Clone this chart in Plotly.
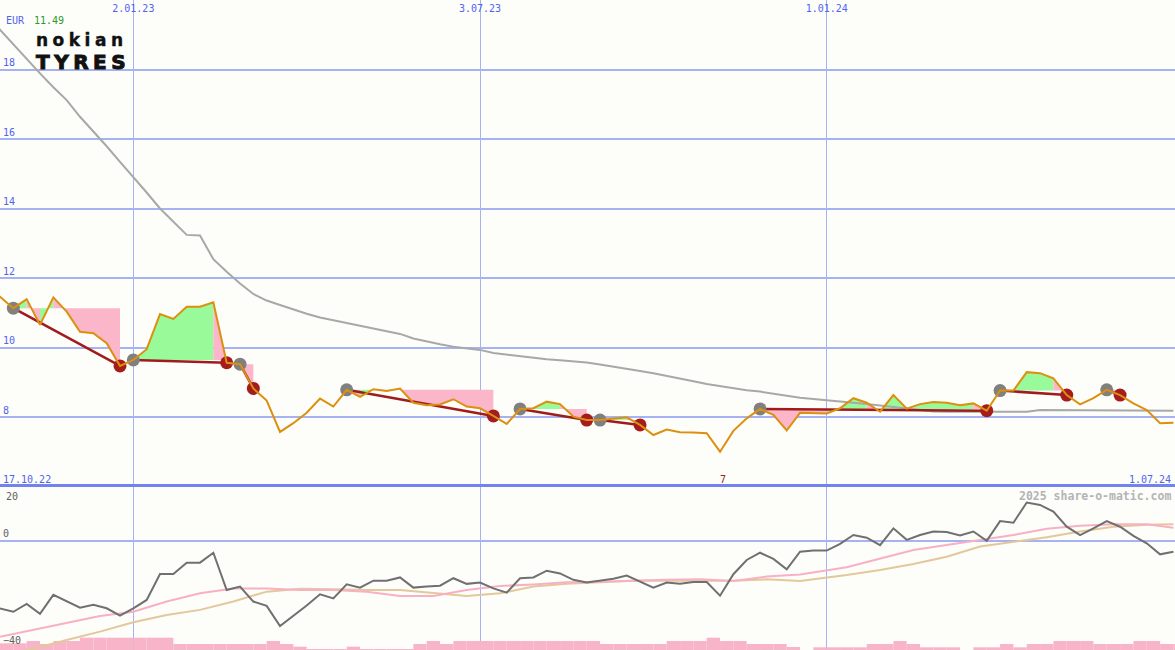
import plotly.graph_objects as go
import pandas as pd
import numpy as np

# ---------------- data ----------------
BASE = "2023-01-02"                     # week index 0
week_idx = list(range(-11, 79))         # weekly points 17.10.22 .. 1.07.24

price = [11.70, 11.47, 11.14, 11.40, 10.66, 11.45, 11.04, 10.46, 10.42, 10.13,
         9.48, 9.65, 9.96, 10.97, 10.83, 11.18, 11.18, 11.31, 9.57, 9.53,
         8.83, 8.48, 7.58, 7.83, 8.13, 8.54, 8.31, 8.79, 8.59, 8.81,
         8.76, 8.83, 8.42, 8.35, 8.37, 8.52, 8.31, 8.26, 8.04, 7.81,
         8.24, 8.26, 8.45, 8.38, 8.02, 7.92, 7.92, 7.96, 8.00, 7.78,
         7.49, 7.65, 7.57, 7.56, 7.54, 7.01, 7.61, 7.97, 8.24, 8.07,
         7.62, 8.13, 8.13, 8.11, 8.26, 8.55, 8.42, 8.16, 8.64, 8.25,
         8.38, 8.44, 8.42, 8.35, 8.40, 8.19, 8.77, 8.77, 9.30, 9.27,
         9.12, 8.64, 8.37, 8.55, 8.79, 8.64, 8.40, 8.21, 7.83, 7.84]

ma_long = [19.57, 19.15, 18.73, 18.30, 17.90, 17.50, 17.13, 16.65, 16.23, 15.80,
           15.35, 14.92, 14.47, 14.01, 13.63, 13.25, 13.23, 12.55, 12.19, 11.85,
           11.55, 11.36, 11.23, 11.10, 10.98, 10.87, 10.79, 10.70, 10.62, 10.54,
           10.47, 10.40, 10.27, 10.18, 10.10, 10.03, 9.98, 9.94, 9.85, 9.80,
           9.75, 9.71, 9.67, 9.64, 9.61, 9.58, 9.52, 9.45, 9.39, 9.33,
           9.27, 9.20, 9.12, 9.04, 8.96, 8.90, 8.82, 8.78, 8.74, 8.68,
           8.62, 8.56, 8.53, 8.50, 8.46, 8.42, 8.38, 8.34, 8.30, 8.26,
           8.21, 8.17, 8.16, 8.16, 8.16, 8.16, 8.16, 8.16, 8.16, 8.21,
           8.21, 8.21, 8.21, 8.21, 8.21, 8.21, 8.21, 8.19, 8.19, 8.19]

osc = [-24.0, -25.2, -26.5, -23.6, -27.3, -20.2, -22.7, -25.0, -23.9, -25.2,
       -27.9, -25.2, -22.1, -12.4, -12.4, -8.2, -8.2, -4.5, -18.4, -17.1,
       -22.7, -24.3, -31.8, -28.1, -24.2, -20.0, -21.5, -16.3, -17.5, -14.9,
       -14.9, -13.7, -17.5, -17.1, -16.8, -14.0, -16.1, -15.6, -17.8, -19.4,
       -14.0, -13.7, -11.2, -12.2, -14.6, -15.6, -14.9, -14.2, -13.0, -15.3,
       -17.5, -15.6, -16.1, -15.4, -15.4, -20.5, -12.5, -7.2, -4.5, -6.8,
       -10.7, -4.1, -3.7, -3.7, -1.2, 2.1, 1.1, -1.7, 4.6, 0.3,
       2.1, 3.4, 3.2, 1.9, 3.4, -0.1, 7.3, 6.7, 14.2, 13.3,
       10.8, 5.2, 2.1, 4.6, 7.3, 5.2, 1.8, -1.0, -5.1, -4.1]

volume = [6.7, 6.7, 6.7, 9, 6, 9, 9, 12.3, 12.3, 12.3,
          12.3, 12.3, 12.3, 12.3, 6, 6, 6, 6, 6, 6,
          6, 9, 6, 3.3, 0.7, 0.7, 0.7, 3.3, 0.7, 0.7,
          0.7, 1, 6, 9, 6, 9, 9, 9, 9, 9,
          9, 9, 9, 9, 9, 9, 6, 6, 6, 6,
          6, 9, 9, 9, 12.3, 9, 9, 6, 6, 6,
          3, 0, 2.7, 2.7, 2.7, 2.7, 6, 6, 9, 6,
          2.7, 2.7, 2.7, 0, 2.7, 2.7, 6, 2.7, 6, 6,
          9, 9, 9, 6, 6, 6, 9, 9, 6, 6]

ma_weeks = [-10, -7.5, -5, -2.5, 0, 2.5, 5, 7.5, 10, 12.5, 15, 17.5, 20, 22.5,
            25, 27.5, 30, 32.5, 35, 37.5, 40, 42.5, 45, 47.5, 50, 53.5, 56,
            58.5, 61, 63.5, 66, 68.5, 71, 73.5, 76, 78]
osc_ma_fast = [-35.8, -33.3, -30.8, -28.1, -26.5, -22.7, -19.6, -17.8, -17.8,
               -18.4, -18.4, -19.0, -20.6, -20.6, -18.4, -16.9, -16.3, -15.5,
               -15.3, -14.9, -14.6, -14.4, -15.0, -13.4, -12.6, -9.9, -6.6,
               -3.5, -1.6, 0.3, 2.1, 4.4, 5.6, 6.1, 6.1, 4.8]
osc_ma_slow = [-42.5, -40.3, -37.0, -33.9, -30.4, -27.7, -25.8, -22.7, -19.0,
               -17.9, -18.1, -18.4, -18.4, -19.4, -20.6, -19.6, -17.1, -16.1,
               -15.6, -14.9, -14.9, -14.9, -14.9, -14.4, -15.0, -12.8, -10.9,
               -8.7, -6.0, -2.2, -0.4, 1.3, 3.4, 5.2, 5.9, 6.1]

seg_start = [-9, 0, 8, 16, 29, 35, 47, 65, 73]    # grey signal dots (week index)
seg_end = [-1, 7, 9, 27, 34, 38, 64, 70, 74]      # red signal dots (week index)

price_ticks = [8, 10, 12, 14, 16, 18]
date_ticks = ["2023-01-02", "2023-07-03", "2024-01-01"]

# ---------------- helpers ----------------
base = pd.Timestamp(BASE)
dates = [base + pd.Timedelta(days=7 * k) for k in week_idx]
ma_dates = [base + pd.Timedelta(days=7 * k) for k in ma_weeks]
off = -week_idx[0]

BLUE = "#5064f0"
GRID = "#a6b2f2"
MONO = "DejaVu Sans Mono"
BG = "#fdfdfa"


def fill_polys(up_side):
    xs, ys = [], []
    for s, e in zip(seg_start, seg_end):
        i0, i1 = s + off, e + off
        b = price[i0]
        for i in range(i0, i1):
            up = price[i + 1] >= b
            if up == up_side:
                xs += [dates[i], dates[i + 1], dates[i + 1], dates[i], dates[i], None]
                ys += [price[i], price[i + 1], b, b, price[i], None]
    return xs, ys


fig = go.Figure()

# volume bars (lower panel, own axis)
fig.add_trace(go.Bar(x=dates, y=volume, xaxis="x2", yaxis="y2",
                     marker=dict(color="#f8b4c8", line=dict(width=0)),
                     width=7 * 86400000, offset=0, hoverinfo="skip"))

# fills
gx, gy = fill_polys(True)
px_, py_ = fill_polys(False)
fig.add_trace(go.Scatter(x=gx, y=gy, mode="lines", fill="toself",
                         fillcolor="#98fa98", line=dict(width=0),
                         xaxis="x", yaxis="y", hoverinfo="skip"))
fig.add_trace(go.Scatter(x=px_, y=py_, mode="lines", fill="toself",
                         fillcolor="#fbb6c9", line=dict(width=0),
                         xaxis="x", yaxis="y", hoverinfo="skip"))

# long moving average
fig.add_trace(go.Scatter(x=dates, y=ma_long, mode="lines",
                         line=dict(color="#a8a8a8", width=2),
                         xaxis="x", yaxis="y"))

# signal segment lines
sx, sy = [], []
for s, e in zip(seg_start, seg_end):
    sx += [dates[s + off], dates[e + off], None]
    sy += [price[s + off], price[e + off], None]
fig.add_trace(go.Scatter(x=sx, y=sy, mode="lines",
                         line=dict(color="#a01c1c", width=2.5),
                         xaxis="x", yaxis="y"))

# signal dots
fig.add_trace(go.Scatter(x=[dates[s + off] for s in seg_start],
                         y=[price[s + off] for s in seg_start], mode="markers",
                         marker=dict(color="#808080", size=13, line=dict(width=0)),
                         xaxis="x", yaxis="y"))
fig.add_trace(go.Scatter(x=[dates[e + off] for e in seg_end],
                         y=[price[e + off] for e in seg_end], mode="markers",
                         marker=dict(color="#a41c1c", size=13, line=dict(width=0)),
                         xaxis="x", yaxis="y"))

# price line
fig.add_trace(go.Scatter(x=dates, y=price, mode="lines",
                         line=dict(color="#dc9010", width=2),
                         xaxis="x", yaxis="y"))

# oscillator lines (lower panel)
fig.add_trace(go.Scatter(x=ma_dates, y=osc_ma_slow, mode="lines",
                         line=dict(color="#e2c89a", width=2),
                         xaxis="x2", yaxis="y3"))
fig.add_trace(go.Scatter(x=ma_dates, y=osc_ma_fast, mode="lines",
                         line=dict(color="#f8b0c4", width=2),
                         xaxis="x2", yaxis="y3"))
fig.add_trace(go.Scatter(x=dates, y=osc, mode="lines",
                         line=dict(color="#707070", width=2),
                         xaxis="x2", yaxis="y3"))

x_range = [pd.Timestamp("2022-10-24"), pd.Timestamp("2024-07-01 20:00")]
split = 1 - 487 / 650

fig.update_layout(
    width=1175, height=650,
    margin=dict(l=0, r=0, t=0, b=0),
    paper_bgcolor=BG, plot_bgcolor=BG,
    showlegend=False,
    xaxis=dict(type="date", range=x_range, domain=[0, 1], anchor="y",
               side="top", tickvals=date_ticks, tickformat="%-d.%m.%y",
               ticklabelposition="inside", ticks="", ticklabelstandoff=2,
               tickfont=dict(family=MONO, size=10, color=BLUE),
               showgrid=True, gridcolor=GRID, gridwidth=1,
               zeroline=False, showline=False),
    yaxis=dict(domain=[split, 1], range=[5.994, 20.01], anchor="x",
               tickvals=price_ticks, ticklabelposition="inside top", ticks="",
               tickfont=dict(family=MONO, size=10, color=BLUE),
               showgrid=True, gridcolor=GRID, gridwidth=2,
               zeroline=False, showline=False),
    xaxis2=dict(type="date", range=x_range, domain=[0, 1], anchor="y2",
                matches="x", side="top", tickvals=date_ticks,
                showticklabels=False, ticks="",
                showgrid=True, gridcolor=GRID, gridwidth=1,
                showline=True, linecolor="#7283ee", linewidth=3,
                zeroline=False),
    yaxis2=dict(domain=[0, split], range=[0, 163], anchor="x2",
                visible=False, fixedrange=True),
    yaxis3=dict(overlaying="y2", anchor="x2", range=[-40.75, 20],
                tickvals=[-40, 0], ticklabelposition="inside top", ticks="",
                tickfont=dict(family=MONO, size=10, color="#606060"),
                showgrid=False, zeroline=True, zerolinecolor=GRID,
                zerolinewidth=2, showline=False),
)

ann = []


def label(text, x, y, color, size=10, xanchor="left", bold=False, family=MONO):
    ann.append(dict(text=("<b>%s</b>" % text) if bold else text,
                    x=x / 1175, y=1 - y / 650, xref="paper", yref="paper",
                    xanchor=xanchor, yanchor="middle", showarrow=False,
                    font=dict(family=family, size=size, color=color)))


label("EUR", 4, 21, BLUE)
label("11.49", 32, 21, "#2a9a2a")
label(dates[0].strftime("%-d.%m.%y"), 1, 479, BLUE)
label(dates[-1].strftime("%-d.%m.%y"), 1173, 479, BLUE, xanchor="right")
label("7", 718, 479, "#a01c1c")
label("2025 share-o-matic.com", 1173, 496, "#b4b4b4", size=11.5,
      xanchor="right", bold=True)
label("20", 4, 496, "#606060")
ann.append(dict(text='<span style="letter-spacing:4.5px;stroke:#111111;stroke-width:0.4px">nokian</span>',
                x=34 / 1175, y=1 - 40 / 650, xref="paper", yref="paper",
                xanchor="left", yanchor="middle", showarrow=False,
                font=dict(family="DejaVu Sans", size=17, color="#111111",
                          weight="bold")))
ann.append(dict(text='<span style="letter-spacing:4.5px;stroke:#111111;stroke-width:1px">TYRES</span>',
                x=34 / 1175, y=1 - 62 / 650, xref="paper", yref="paper",
                xanchor="left", yanchor="middle", showarrow=False,
                font=dict(family="DejaVu Sans", size=20, color="#111111",
                          weight="bold")))
fig.update_layout(annotations=ann)

fig.write_html("out.html", config={"displayModeBar": False},
               post_script="document.body.style.margin='0px';")
